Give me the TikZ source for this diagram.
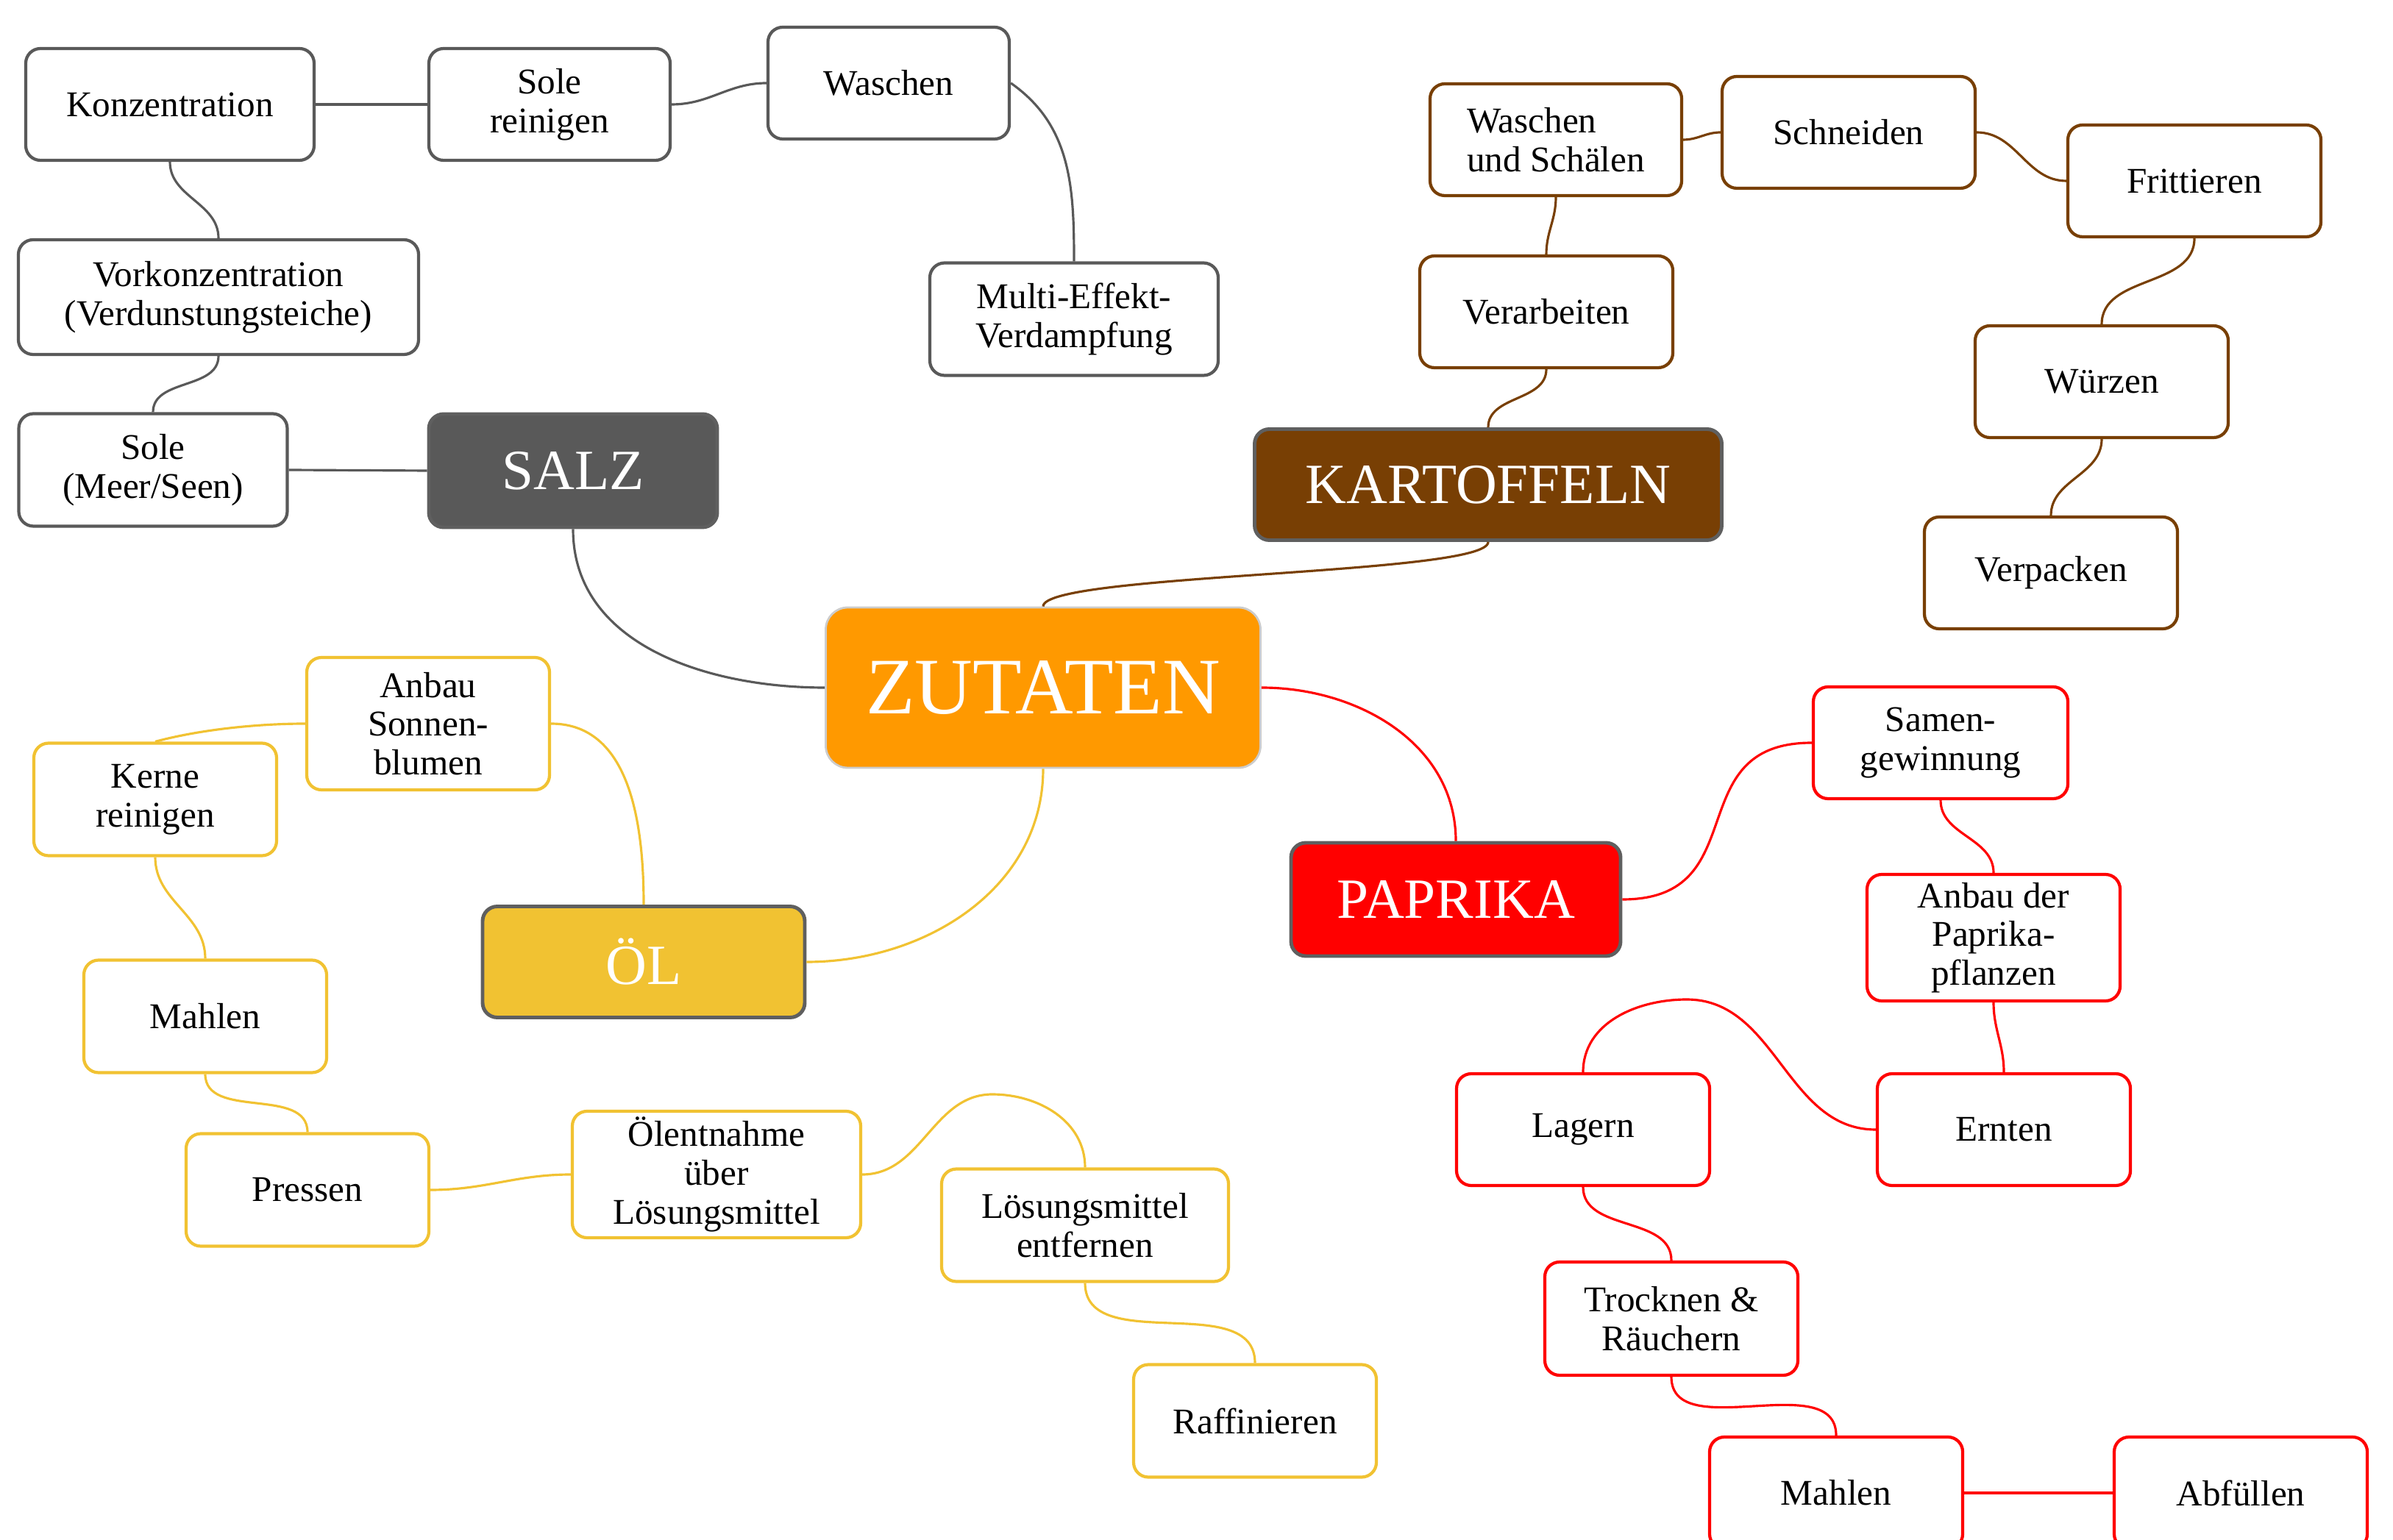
\documentclass[tikz,border=0pt]{standalone}
\usepackage{fontspec}
\setmainfont{Liberation Serif}
\usepackage{xcolor}
\usepackage{tikz}
\definecolor{salt}{HTML}{595959}
\definecolor{potato}{HTML}{783F04}
\definecolor{core}{HTML}{FF9900}
\definecolor{oil}{HTML}{F1C232}
\definecolor{pepper}{HTML}{FF0000}
\definecolor{rim}{HTML}{5F5F5F}
\tikzset{
  box/.style={draw, fill=white, rounded corners=0.2cm, line width=1.2pt, align=center,
    minimum width=3.44cm, minimum height=1.52cm, inner sep=2pt,
    font=\fontsize{14}{15}\selectfont},
  head/.style={draw=rim, rounded corners=0.2cm, line width=1.4pt, text=white,
    minimum height=1.54cm, font=\fontsize{22}{26}\selectfont},
  saltbox/.style={box, draw=salt},
  potbox/.style={box, draw=potato},
  oilbox/.style={box, draw=oil},
  redbox/.style={box, draw=pepper},
  link/.style={line width=0.9pt}
}

\begin{document}
\begin{tikzpicture}
  \useasboundingbox (0,0) rectangle (32.53,-20.94);
  \clip (0,0) rectangle (32.53,-20.94);

  % centre
  \node[draw=black!20, fill=core, rounded corners=0.3cm, line width=0.8pt, text=white,
    minimum width=5.91cm, minimum height=2.18cm, font=\fontsize{31}{35}\selectfont]
    (zutaten) at (14.18,-9.35) {ZUTATEN};

  % main branches
  \node[head, fill=salt, minimum width=3.92cm] (salz) at (7.79,-6.40) {SALZ};
  \node[head, fill=potato, minimum width=6.35cm, minimum height=1.51cm] (kart) at (20.23,-6.59) {KARTOFFELN};
  \node[head, fill=oil, minimum width=4.38cm, minimum height=1.51cm] (oel) at (8.75,-13.08) {ÖL};
  \node[head, fill=pepper, minimum width=4.48cm] (paprika) at (19.79,-12.23) {PAPRIKA};

  % salz
  \node[saltbox, minimum width=3.92cm] (konz) at (2.31,-1.42) {Konzentration};
  \node[saltbox, minimum width=3.28cm] (solerein) at (7.47,-1.42) {Sole\\reinigen};
  \node[saltbox, minimum width=3.28cm] (waschen) at (12.08,-1.13) {Waschen};
  \node[saltbox, minimum width=3.92cm, minimum height=1.53cm] (multi) at (14.60,-4.34) {Multi-Effekt-\\Verdampfung};
  \node[saltbox, minimum width=5.44cm, minimum height=1.56cm] (vorkonz) at (2.97,-4.04) {Vorkonzentration\\(Verdunstungsteiche)};
  \node[saltbox, minimum width=3.65cm, minimum height=1.53cm] (solemeer) at (2.08,-6.39) {Sole\\(Meer/Seen)};

  % kartoffeln
  \node[potbox, minimum width=3.42cm, align=left] (waschschael) at (21.15,-1.90) {Waschen\\und Schälen};
  \node[potbox] (schneiden) at (25.13,-1.80) {Schneiden};
  \node[potbox] (fritt) at (29.83,-2.46) {Frittieren};
  \node[potbox] (verarb) at (21.02,-4.24) {Verarbeiten};
  \node[potbox] (wuerzen) at (28.57,-5.19) {Würzen};
  \node[potbox] (verpack) at (27.88,-7.79) {Verpacken};

  % oel
  \node[oilbox, minimum width=3.30cm, minimum height=1.80cm] (anbaus) at (5.82,-9.84) {Anbau\\Sonnen-\\blumen};
  \node[oilbox, minimum width=3.30cm, minimum height=1.53cm] (kerne) at (2.11,-10.87) {Kerne\\reinigen};
  \node[oilbox, minimum width=3.30cm, minimum height=1.53cm] (mahlenoel) at (2.79,-13.82) {Mahlen};
  \node[oilbox, minimum width=3.30cm, minimum height=1.53cm] (pressen) at (4.18,-16.18) {Pressen};
  \node[oilbox, minimum width=3.92cm, minimum height=1.72cm] (oelent) at (9.74,-15.97) {Ölentnahme\\über\\Lösungsmittel};
  \node[oilbox, minimum width=3.90cm, minimum height=1.53cm] (loesung) at (14.75,-16.66) {Lösungsmittel\\entfernen};
  \node[oilbox, minimum width=3.30cm, minimum height=1.53cm] (raff) at (17.06,-19.32) {Raffinieren};

  % paprika
  \node[redbox, minimum width=3.46cm] (samen) at (26.38,-10.10) {Samen-\\gewinnung};
  \node[redbox, minimum height=1.72cm] (anbaup) at (27.10,-12.75) {Anbau der\\Paprika-\\pflanzen};
  \node[redbox] (ernten) at (27.24,-15.36) {Ernten};
  \node[redbox] (lagern) at (21.52,-15.36) {Lagern};
  \node[redbox, minimum height=1.54cm] (trocknen) at (22.72,-17.93) {Trocknen \&\\Räuchern};
  \node[redbox] (mahlenrot) at (24.96,-20.30) {Mahlen};
  \node[redbox] (abfuellen) at (30.46,-20.30) {Abfüllen};

  % bends
  \coordinate (oilarch) at (13.49,-14.88);
  \coordinate (redarch) at (22.93,-13.59);

  % links salz
  \begin{scope}[link, draw=salt]
    \draw (salz.south) to[out=-90,in=180] (zutaten.west);
    \draw (solemeer.east) -- (salz.west);
    \draw (vorkonz.south) to[out=-90,in=90] (solemeer.north);
    \draw (konz.south) to[out=-90,in=90] (vorkonz.north);
    \draw (konz.east) -- (solerein.west);
    \draw (solerein.east) to[out=0,in=180] (waschen.west);
    \draw (waschen.east) to[out=-35,in=90] (multi.north);
  \end{scope}

  % links kartoffeln
  \begin{scope}[link, draw=potato]
    \draw (zutaten.north) .. controls +(0,0.45) and +(0,-0.45) .. (kart.south);
    \draw (kart.north) to[out=90,in=-90] (verarb.south);
    \draw (verarb.north) to[out=90,in=-90] (waschschael.south);
    \draw (waschschael.east) to[out=0,in=180] (schneiden.west);
    \draw (schneiden.east) to[out=0,in=180] (fritt.west);
    \draw (fritt.south) to[out=-90,in=90] (wuerzen.north);
    \draw (wuerzen.south) to[out=-90,in=90] (verpack.north);
  \end{scope}

  % links oel
  \begin{scope}[link, draw=oil]
    \draw (zutaten.south) to[out=-90,in=0] (oel.east);
    \draw (oel.north) to[out=90,in=0] (anbaus.east);
    \draw (anbaus.west) to[out=180,in=15,looseness=0.8] (kerne.north);
    \draw (kerne.south) to[out=-90,in=90] (mahlenoel.north);
    \draw (mahlenoel.south) to[out=-90,in=90] (pressen.north);
    \draw (pressen.east) to[out=0,in=180] (oelent.west);
    \draw (oelent.east) to[out=0,in=180] (oilarch) to[out=0,in=90] (loesung.north);
    \draw (loesung.south) to[out=-90,in=90] (raff.north);
  \end{scope}

  % links paprika
  \begin{scope}[link, draw=pepper]
    \draw (zutaten.east) to[out=0,in=90] (paprika.north);
    \draw (paprika.east) to[out=0,in=180,looseness=1.4] (samen.west);
    \draw (samen.south) to[out=-90,in=90] (anbaup.north);
    \draw (anbaup.south) to[out=-90,in=90] (ernten.north);
    \draw (ernten.west) to[out=180,in=0] (redarch) to[out=180,in=90] (lagern.north);
    \draw (lagern.south) to[out=-90,in=90] (trocknen.north);
    \draw (trocknen.south) to[out=-90,in=90] (mahlenrot.north);
    \draw (mahlenrot.east) -- (abfuellen.west);
  \end{scope}
\end{tikzpicture}
\end{document}
